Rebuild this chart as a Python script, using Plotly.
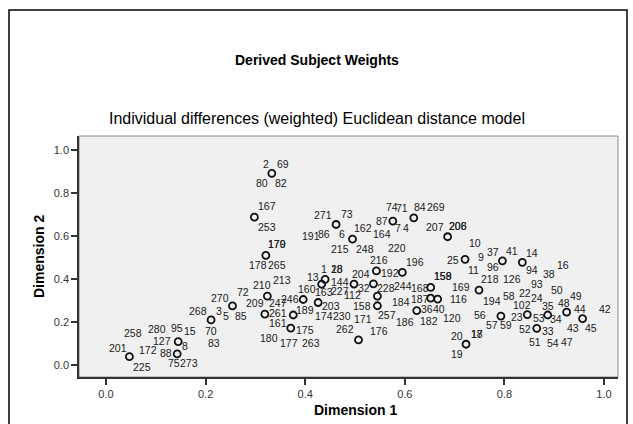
import plotly.graph_objects as go

# ---------------- data ----------------
# Subject weight points (Dimension 1, Dimension 2)
pt_x = [0.333, 0.298, 0.321, 0.462, 0.495, 0.576, 0.618, 0.686, 0.721, 0.796,
        0.836, 0.543, 0.595, 0.440, 0.433, 0.498, 0.537, 0.545, 0.545, 0.652,
        0.652, 0.666, 0.624, 0.507, 0.723, 0.749, 0.793, 0.846, 0.887, 0.925,
        0.957, 0.865, 0.047, 0.145, 0.143, 0.211, 0.254, 0.319, 0.324, 0.396,
        0.376, 0.371, 0.426]
pt_y = [0.893, 0.689, 0.511, 0.655, 0.587, 0.671, 0.686, 0.598, 0.493, 0.486,
        0.479, 0.439, 0.432, 0.400, 0.377, 0.378, 0.379, 0.322, 0.277, 0.362,
        0.312, 0.308, 0.254, 0.118, 0.098, 0.350, 0.229, 0.236, 0.234, 0.247,
        0.217, 0.172, 0.040, 0.110, 0.053, 0.211, 0.276, 0.238, 0.322, 0.306,
        0.234, 0.173, 0.292]

# Case labels: text and the point each belongs to
lab_text = ["2", "69", "80", "82",
            "167", "253",
            "170", "179", "178", "265",
            "271", "73", "191", "86", "6",
            "162", "164", "215", "248",
            "87", "74", "7", "220",
            "71", "84", "269", "4",
            "207", "206", "208",
            "25", "10", "9", "11",
            "37", "41", "96",
            "14", "94", "16", "38",
            "216", "204",
            "192", "196",
            "1", "28", "18", "13",
            "163", "227",
            "144", "32", "112",
            "228", "244",
            "184",
            "158", "257", "171",
            "168", "158", "159",
            "187",
            "116",
            "36", "40", "186", "182", "120",
            "262", "176",
            "20", "17", "18", "19",
            "169", "218", "126", "194",
            "56", "57", "59", "58",
            "23", "102", "22", "24",
            "53", "35", "34", "93", "50",
            "48", "49",
            "44", "42", "43", "45",
            "52", "33", "51", "54", "47",
            "201", "225", "258", "172",
            "127", "8", "95", "15", "280",
            "88", "75", "273",
            "268", "70", "83",
            "270", "3", "5", "85",
            "261", "180",
            "210", "209", "72", "213", "247",
            "246", "160",
            "189",
            "161", "175", "177", "263",
            "203", "174", "230"]
lab_pt = [0, 0, 0, 0,
          1, 1,
          2, 2, 2, 2,
          3, 3, 3, 3, 3,
          4, 4, 4, 4,
          5, 5, 5, 5,
          6, 6, 6, 6,
          7, 7, 7,
          8, 8, 8, 8,
          9, 9, 9,
          10, 10, 10, 10,
          11, 11,
          12, 12,
          13, 13, 13, 13,
          14, 14,
          15, 15, 15,
          16, 16,
          17,
          18, 18, 18,
          19, 19, 19,
          20,
          21,
          22, 22, 22, 22, 22,
          23, 23,
          24, 24, 24, 24,
          25, 25, 25, 25,
          26, 26, 26, 26,
          27, 27, 27, 27,
          28, 28, 28, 28, 28,
          29, 29,
          30, 30, 30, 30,
          31, 31, 31, 31, 31,
          32, 32, 32, 32,
          33, 33, 33, 33, 33,
          34, 34, 34,
          35, 35, 35,
          36, 36, 36, 36,
          37, 37,
          38, 38, 38, 38, 38,
          39, 39,
          40,
          41, 41, 41, 41,
          42, 42, 42]

# ---------------- label placement (pixel offsets from the point) ----------------
lab_dx = [-6, 11, -9.4, 9,
          12.4, 12.4,
          11.6, 11.6, -7.4, 11.6,
          -13.3, 10.7, -25.3, -12, 6,
          10.6, 29, -12.7, 12.3,
          -11, -1, 5.6, 4.6,
          -11.7, 6.7, 22, -7.3,
          -12.7, 10.6, 10.6,
          -11.7, 10, 16, 8.3,
          -9.4, 10, -9.4,
          10, 9.4, 40.4, 27,
          2.8, -15.5,
          -12.5, 12.5,
          -1.3, 11.4, 11.4, -12,
          2.5, 18.5,
          -13.6, 9.7, -2,
          12.3, 29.6,
          24,
          -15.8, 9.8, -14.2,
          -10.5, 12.2, 12.2,
          -10.7,
          20.6,
          10, 22.6, -11.7, 12.3, 35,
          -13.3, 20.7,
          -9.3, 10.7, 10.7, -9.3,
          -18.3, 11, 32.7, 12.7,
          -20.7, -9, 5.3, 7.6,
          -10.6, -5.6, -2.3, 10,
          -8.4, 0, 8.3, -11, 9.6,
          -2.7, 9.3,
          -2.7, 22.3, -9.4, 8,
          -11.7, 11.6, -1.7, 16.6, 30,
          -11, 12.4, 4, 19,
          -16.6, 6.7, -1, 11.7, -21,
          -11.3, -3.3, 12,
          -13.3, 0, 3.3,
          -12, -13.4, -6.7, 8.3,
          13.3, 4.3,
          -5.6, -12.3, -24, 14.4, 10.4,
          -13.3, 3.7,
          11.7,
          -13, 14.3, -1.7, 20.3,
          12.4, 5.7, 23.4]
lab_dy = [-9.3, -9.3, 9.4, 9.4,
          -11.3, 9.4,
          -11.3, -11.3, 10, 10,
          -9.5, -10.5, 11.5, 9.5, 9.5,
          -10.7, -4.7, 10.3, 10,
          0, -14.3, 7.3, 27.3,
          -9.4, -11, -11, 10.3,
          -9.4, -11, -11,
          0.7, -16, -2.6, 10.7,
          -9, -9.7, 6,
          -9.6, 7.7, 2.7, 11.7,
          -11, 3.3,
          0.2, -10.8,
          -10.2, -10.2, -10.2, -2.5,
          7.5, 6.8,
          -2.5, 3.5, 10.8,
          3.9, 1.9,
          5.7,
          0.2, 9.2, 13.2,
          0.2, -11.5, -11.5,
          1,
          0.3,
          -1.7, -1.7, 11, 10, 7.6,
          -10.7, -9,
          -8.6, -10, -10, 9.7,
          -3.3, -10.7, -10.7, 10.7,
          -1, 9, 9, -20,
          2.6, -9.7, -22, -16.4,
          3.3, -9, 4, -31, -25,
          -9.6, -16.3,
          -9.4, -9.4, 9.6, 9.6,
          1, 2.4, 13.4, 14.4, 13.4,
          -8.4, 10, -23.4, -6.7,
          -1, 4.3, -13.4, -11, -12.4,
          -1.3, 9.3, 8.7,
          -9.3, 10.7, 23.3,
          -8.3, 4.7, 10, 10,
          -1.3, 24.3,
          -11, 7.3, -4.3, -16, 7.3,
          -0.3, -10.3,
          -5,
          -5, 1.7, 14.4, 14.4,
          3.5, 13.2, 13.2]

x_ticks = [0.0, 0.2, 0.4, 0.6, 0.8, 1.0]
y_ticks = [0.0, 0.2, 0.4, 0.6, 0.8, 1.0]

# ---------------- layout geometry ----------------
W, H = 633, 424
ML, MR, MT, MB = 79, 15, 136, 47
PW, PH = W - ML - MR, H - MT - MB
FONT = "Liberation Sans, Arial, sans-serif"


def pxx(px):
    return (px - ML) / PW


def pxy(py):
    return (H - MB - py) / PH


fig = go.Figure()
fig.add_trace(go.Scatter(
    x=pt_x, y=pt_y, mode="markers",
    marker=dict(symbol="circle-open", size=7, color="#111111",
                line=dict(width=1.8, color="#111111")),
    hoverinfo="skip", showlegend=False))

annotations = []
for t, i, dx, dy in zip(lab_text, lab_pt, lab_dx, lab_dy):
    annotations.append(dict(
        x=pt_x[i], y=pt_y[i], xref="x", yref="y", text=t, showarrow=False,
        xshift=dx, yshift=-dy, xanchor="center", yanchor="middle",
        font=dict(family=FONT, size=10.5, color="#1a1a1a")))

# titles
annotations.append(dict(x=pxx(317), y=pxy(60), xref="paper", yref="paper",
                        text="<b>Derived Subject Weights</b>", showarrow=False,
                        xanchor="center", yanchor="middle",
                        font=dict(family=FONT, size=14, color="#000000")))
annotations.append(dict(x=pxx(317), y=pxy(118), xref="paper", yref="paper",
                        text="Individual differences (weighted) Euclidean distance model",
                        showarrow=False, xanchor="center", yanchor="middle",
                        font=dict(family=FONT, size=16, color="#000000")))
annotations.append(dict(x=pxx(355), y=pxy(410), xref="paper", yref="paper",
                        text="<b>Dimension 1</b>", showarrow=False,
                        xanchor="center", yanchor="middle",
                        font=dict(family=FONT, size=14, color="#000000")))
annotations.append(dict(x=pxx(39), y=pxy(257), xref="paper", yref="paper",
                        text="<b>Dimension 2</b>", showarrow=False, textangle=-90,
                        xanchor="center", yanchor="middle",
                        font=dict(family=FONT, size=14, color="#000000")))

shapes = [
    # outer chart frame
    dict(type="rect", xref="paper", yref="paper",
         x0=pxx(9), x1=pxx(627), y0=pxy(440), y1=pxy(10),
         line=dict(color="#000000", width=1.5), fillcolor="rgba(0,0,0,0)", layer="above"),
    # plot-area border
    dict(type="rect", xref="paper", yref="paper", x0=0, x1=1, y0=0, y1=1,
         line=dict(color="#8a8a8a", width=1), fillcolor="rgba(0,0,0,0)", layer="below"),
]

x_left = (ML - 106) / 498
x_right = (W - MR - 106) / 498
y_bot = (365.3 - (H - MB)) / 215
y_top = (365.3 - MT) / 215

fig.update_layout(
    width=W, height=H,
    margin=dict(l=ML, r=MR, t=MT, b=MB, pad=0),
    paper_bgcolor="#ffffff", plot_bgcolor="#f0f0f0",
    annotations=annotations, shapes=shapes, showlegend=False,
    xaxis=dict(range=[x_left, x_right], tickvals=x_ticks,
               ticktext=[f"{v:.1f}" for v in x_ticks],
               showgrid=False, zeroline=False, showline=True,
               linecolor="#333333", linewidth=1.5, ticks="outside",
               ticklen=6, tickcolor="#333333", tickwidth=1.5,
               tickfont=dict(family=FONT, size=11, color="#333333")),
    yaxis=dict(range=[y_bot, y_top], tickvals=y_ticks,
               ticktext=[f"{v:.1f}" for v in y_ticks],
               showgrid=False, zeroline=False, showline=True,
               linecolor="#333333", linewidth=1.5, ticks="outside",
               ticklen=6, tickcolor="#333333", tickwidth=1.5,
               tickfont=dict(family=FONT, size=11, color="#333333")),
)

fig.write_html("out.html")
